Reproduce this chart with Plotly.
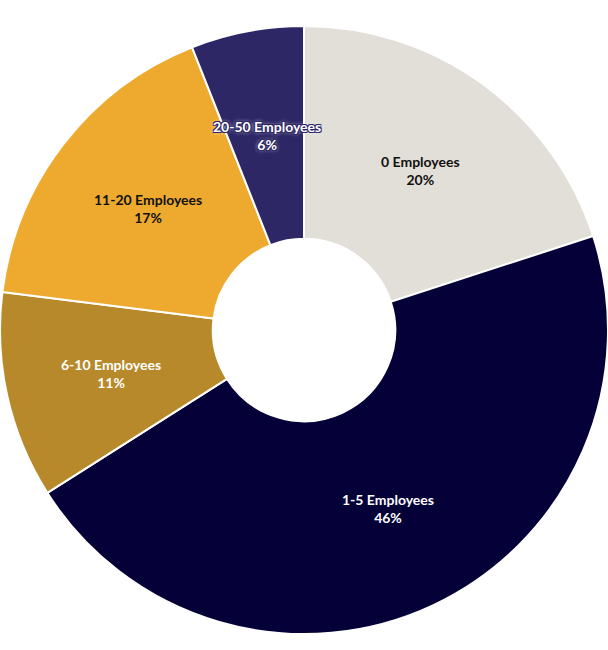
import numpy as np
import plotly.graph_objects as go

categories = ["0 Employees", "1-5 Employees", "6-10 Employees", "11-20 Employees", "20-50 Employees"]
values = [20, 46, 11, 17, 6]
colors = ["#e2dfd8", "#050038", "#b8892a", "#eeaa2e", "#2d2766"]
label_colors = ["#111111", "#ffffff", "#ffffff", "#111111", "#ffffff"]

W, H = 608, 650
cx, cy = 304, 330          # pie centre in pixels (from top-left)
R = 304                    # outer radius px
HOLE = 0.30

fig = go.Figure()
fig.add_trace(go.Pie(
    labels=categories,
    values=values,
    sort=False,
    direction="clockwise",
    rotation=0,
    hole=HOLE,
    marker=dict(colors=colors, line=dict(color="#ffffff", width=2)),
    textinfo="none",
    hoverinfo="label+percent",
    showlegend=False,
    domain=dict(x=[0, 1], y=[1 - (cy + R) / H, 1 - (cy - R) / H]),
))

total = float(sum(values))
cum = np.cumsum([0] + values)
r_mid = (R * HOLE + R) / 2.0
for i, cat in enumerate(categories):
    mid = (cum[i] + cum[i + 1]) / 2.0 / total * 2 * np.pi
    xp = cx + r_mid * np.sin(mid)
    yp = cy - r_mid * np.cos(mid)
    pct = round(values[i] / total * 100)
    font = dict(family="Lato, 'Open Sans', sans-serif", size=14, color=label_colors[i], weight="bold")
    if i == 4:
        font["shadow"] = ("1px 1px 0 #2d2766, -1px -1px 0 #2d2766, 1px -1px 0 #2d2766, "
                          "-1px 1px 0 #2d2766, 0 0 4px #ffffff")
    fig.add_annotation(
        x=xp / W, y=1 - yp / H, xref="paper", yref="paper",
        text=f"<b>{cat}</b><br><b>{pct}%</b>",
        showarrow=False, xanchor="center", yanchor="middle",
        font=font, borderpad=0,
    )

fig.update_layout(
    width=W, height=H,
    margin=dict(l=0, r=0, t=0, b=0),
    paper_bgcolor="#ffffff",
    plot_bgcolor="#ffffff",
)

fig.write_html("out.html",
               config={"displayModeBar": False},
               post_script="document.body.style.margin='0';document.body.style.overflow='hidden';")
